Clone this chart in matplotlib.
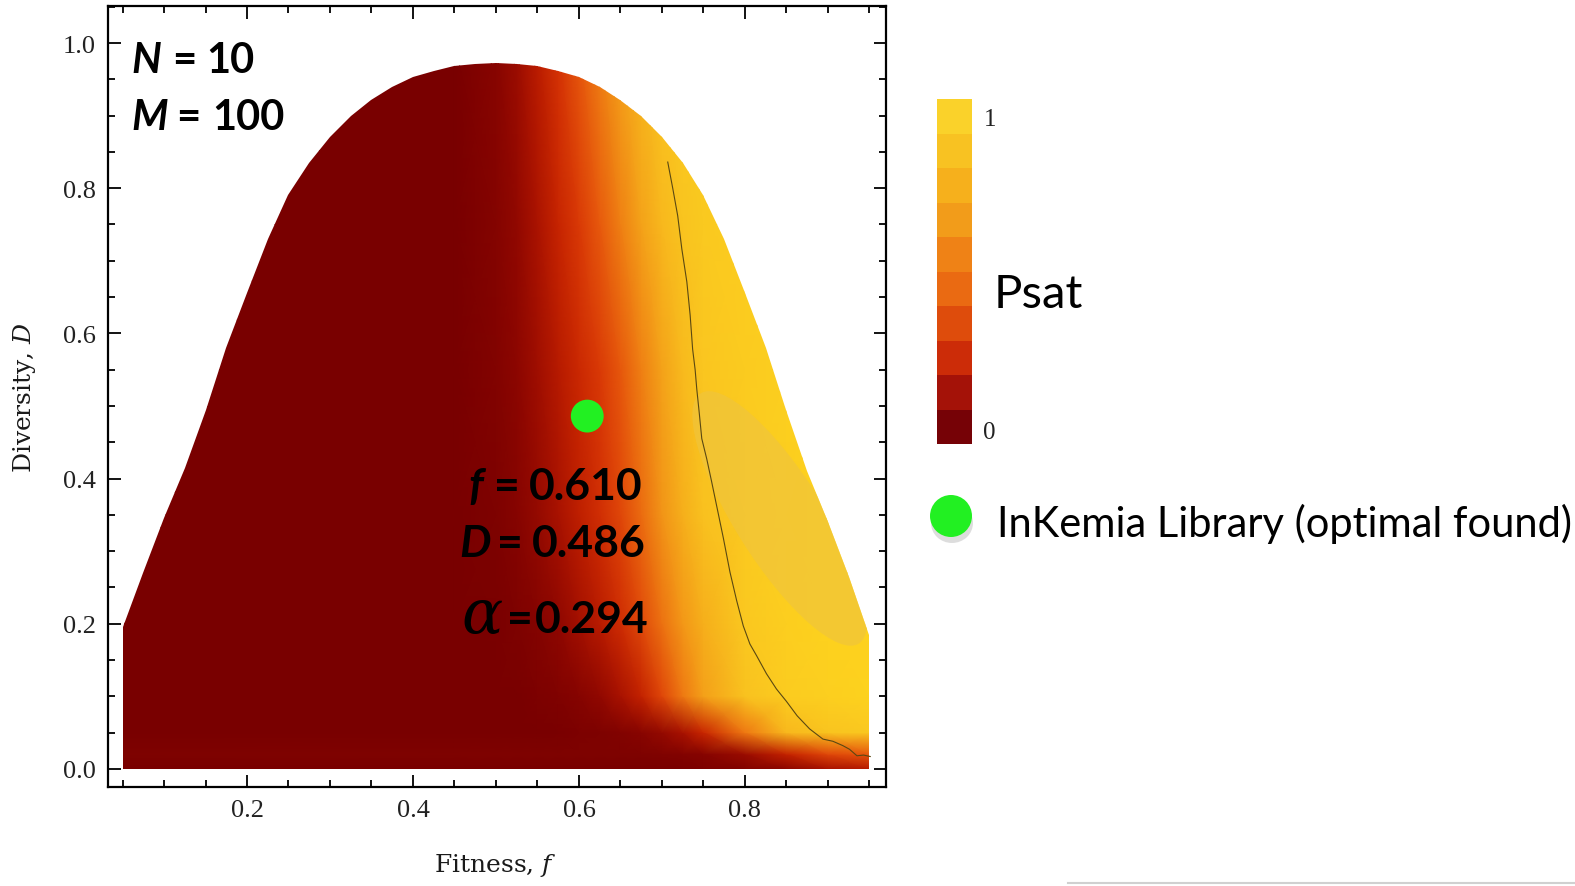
import numpy as np
import matplotlib
matplotlib.use("Agg")
import matplotlib.pyplot as plt
from matplotlib.colors import LinearSegmentedColormap, ListedColormap, BoundaryNorm
from matplotlib.cm import ScalarMappable
from matplotlib.patches import Polygon, Circle, Ellipse
from matplotlib.transforms import ScaledTranslation
from matplotlib.ticker import MultipleLocator, FormatStrFormatter

plt.rcParams['mathtext.fontset'] = 'custom'
plt.rcParams['mathtext.rm'] = 'DejaVu Serif'
plt.rcParams['mathtext.it'] = 'DejaVu Serif:italic'

# ---------------- data ----------------
# upper edge of the feasible (f, D) region
boundary_f = [0.05, 0.075, 0.10, 0.125, 0.15, 0.175, 0.20, 0.225, 0.25, 0.275, 0.30, 0.325,
              0.35, 0.375, 0.40, 0.425, 0.45, 0.475, 0.50, 0.525, 0.55, 0.575, 0.60, 0.625,
              0.65, 0.675, 0.70, 0.725, 0.75, 0.775, 0.80, 0.825, 0.85, 0.875, 0.90, 0.925,
              0.95]
boundary_D = [0.195, 0.27, 0.345, 0.415, 0.495, 0.58, 0.655, 0.73, 0.79, 0.835, 0.87, 0.90,
              0.922, 0.94, 0.953, 0.962, 0.968, 0.971, 0.972, 0.971, 0.968, 0.962, 0.953, 0.94,
              0.922, 0.90, 0.87, 0.835, 0.79, 0.73, 0.655, 0.58, 0.495, 0.41, 0.34, 0.265,
              0.185]

# Psat surface sampled on a coarse (D, f) grid
grid_f = [0.05, 0.45, 0.50, 0.525, 0.55, 0.575, 0.60, 0.625, 0.65, 0.675, 0.70, 0.725,
          0.75, 0.80, 0.85, 0.90, 0.95]
grid_D = [0.0, 0.02, 0.05, 0.10, 0.20, 0.35, 0.55, 0.75, 1.0]
psat_D000 = [0, 0, 0, 0, 0, 0, 0, 0, 0, 0, 0, 0.01, 0.02, 0.05, 0.10, 0.20, 0.25]
psat_D002 = [0.03, 0.03, 0.03, 0.03, 0.03, 0.03, 0.03, 0.03, 0.03, 0.03, 0.04, 0.05, 0.07, 0.15, 0.30, 0.45, 0.50]
psat_D005 = [0, 0, 0, 0, 0, 0.01, 0.02, 0.03, 0.05, 0.08, 0.13, 0.20, 0.32, 0.60, 0.82, 0.88, 0.90]
psat_D010 = [0, 0, 0, 0, 0.02, 0.04, 0.07, 0.12, 0.20, 0.30, 0.45, 0.60, 0.72, 0.87, 0.94, 0.97, 1.0]
psat_D020 = [0, 0, 0.01, 0.03, 0.06, 0.11, 0.18, 0.26, 0.35, 0.46, 0.58, 0.69, 0.78, 0.90, 0.96, 1.0, 1.0]
psat_D035 = [0, 0, 0.03, 0.07, 0.13, 0.20, 0.28, 0.36, 0.45, 0.56, 0.68, 0.78, 0.86, 0.92, 0.96, 1.0, 1.0]
psat_D055 = [0, 0, 0.05, 0.10, 0.17, 0.25, 0.33, 0.41, 0.50, 0.62, 0.73, 0.83, 0.89, 0.93, 0.97, 1.0, 1.0]
psat_D075 = [0, 0, 0.06, 0.12, 0.21, 0.31, 0.41, 0.51, 0.62, 0.73, 0.82, 0.88, 0.91, 0.95, 1.0, 1.0, 1.0]
psat_D100 = [0, 0, 0.08, 0.16, 0.27, 0.39, 0.51, 0.63, 0.74, 0.83, 0.89, 0.92, 0.94, 0.97, 1.0, 1.0, 1.0]
psat_rows = [psat_D000, psat_D002, psat_D005, psat_D010, psat_D020,
             psat_D035, psat_D055, psat_D075, psat_D100]

# thin iso-line drawn on the surface
contour_f = [0.707, 0.713, 0.719, 0.724, 0.730, 0.734, 0.737, 0.740, 0.742, 0.745, 0.748,
             0.754, 0.760, 0.766, 0.774, 0.782, 0.790, 0.798, 0.806, 0.814, 0.826, 0.838,
             0.850, 0.863, 0.878, 0.894, 0.906, 0.918, 0.926, 0.935, 0.943, 0.951]
contour_D = [0.836, 0.800, 0.762, 0.716, 0.671, 0.625, 0.578, 0.550, 0.523, 0.490, 0.455,
             0.427, 0.395, 0.362, 0.318, 0.271, 0.232, 0.197, 0.172, 0.156, 0.131, 0.110,
             0.093, 0.073, 0.055, 0.041, 0.038, 0.032, 0.027, 0.018, 0.019, 0.017]

# optimal library found
optimal_f = [0.610]
optimal_D = [0.486]

# lighter patch on the yellow side (centre in data units)
blob_f, blob_D = 0.842, 0.345

x_major = [0.2, 0.4, 0.6, 0.8]
y_major = [0.0, 0.2, 0.4, 0.6, 0.8, 1.0]

cmap_colors = ['#790000', '#8c0600', '#a81200', '#c42200', '#d83606', '#e6560c',
               '#ee7812', '#f39a18', '#f7b41c', '#fac820', '#fdd21e']
band_colors = ['#760206', '#a41208', '#cc2c08', '#de4c0c', '#ea6a12', '#ef8216',
               '#f29c1a', '#f6b01c', '#f8c222', '#fad22a']

# ---------------- figure ----------------
W, H = 1575, 887
fig = plt.figure(figsize=(W / 100, H / 100), dpi=100)
ax = fig.add_axes([108 / W, 1 - 788 / H, (886 - 108) / W, (788 - 7) / H])
ax.set_xlim(0.0325, 0.97)
ax.set_ylim(-0.025, 1.051)

cmap = LinearSegmentedColormap.from_list("psat", cmap_colors)
F, Dg = np.meshgrid(grid_f, grid_D)
mesh = ax.pcolormesh(F, Dg, np.array(psat_rows), cmap=cmap, vmin=0, vmax=1,
                     shading='gouraud', zorder=1, antialiased=False)

poly_f = [boundary_f[0]] + boundary_f + [boundary_f[-1]]
poly_D = [0.0] + boundary_D + [0.0]
region = Polygon(np.column_stack([poly_f, poly_D]), closed=True,
                 facecolor='none', edgecolor='none', transform=ax.transData)
ax.add_patch(region)
mesh.set_clip_path(region)

blob = Ellipse((0, 0), 2 * 148, 2 * 44, angle=-57.7, facecolor='#efc43e',
               edgecolor='none', alpha=0.65,
               transform=ScaledTranslation(blob_f, blob_D, ax.transData), zorder=2)
ax.add_patch(blob)
blob.set_clip_path(region)

ax.plot(contour_f, contour_D, color='#5a4812', lw=0.8, zorder=3)
ax.scatter(optimal_f, optimal_D, s=560, color='#22f022', edgecolors='none', zorder=4)

ax.set_xticks(x_major)
ax.set_yticks(y_major)
ax.xaxis.set_minor_locator(MultipleLocator(0.05))
ax.yaxis.set_minor_locator(MultipleLocator(0.05))
ax.xaxis.set_major_formatter(FormatStrFormatter('%.1f'))
ax.yaxis.set_major_formatter(FormatStrFormatter('%.1f'))
ax.tick_params(which='both', direction='in', top=True, right=True, width=1.3, color='black')
ax.tick_params(which='major', length=9, labelsize=19, pad=9)
ax.tick_params(which='minor', length=5)
for lab in ax.get_xticklabels() + ax.get_yticklabels():
    lab.set_fontfamily('Liberation Serif')
    lab.set_color('#222222')
for sp in ax.spines.values():
    sp.set_linewidth(1.6)

# colorbar
cax = fig.add_axes([937 / W, 1 - 445 / H, 35 / W, 345 / H])
sm = ScalarMappable(norm=BoundaryNorm(np.linspace(0, 1, 11), 10),
                    cmap=ListedColormap(band_colors))
cb = fig.colorbar(sm, cax=cax)
cb.outline.set_visible(False)
cb.set_ticks([])
cb.minorticks_off()
cax.tick_params(which='both', length=0)

# overlay in pixel coordinates for texts
ov = fig.add_axes([0, 0, 1, 1], zorder=10)
ov.set_xlim(0, W)
ov.set_ylim(H, 0)
ov.axis('off')
ov.patch.set_alpha(0)

serif = dict(family='DejaVu Serif', fontsize=18, color='#1a1a1a')
ov.text(495, 866, "Fitness, $f$", ha='center', va='center', **serif)
ov.text(25, 397, "Diversity, $D$", ha='center', va='center', rotation=90, **serif)

bold = dict(family='Lato', fontweight='bold', fontsize=30, color='black', va='baseline', ha='left')
boldit = dict(bold, fontstyle='italic')
ov.text(131, 73, "N", **boldit)
ov.text(172, 73, "=", **bold)
ov.text(206, 73, "10", **bold)
ov.text(131, 130, "M", **boldit)
ov.text(176, 130, "=", **bold)
ov.text(212, 130, "100", **bold)

big = dict(bold, fontsize=32)
bigit = dict(big, fontstyle='italic')
ov.text(468, 500, "f", **bigit)
ov.text(494, 500, "=", **big)
ov.text(529, 500, "0.610", **big)
ov.text(459, 557, "D", **bigit)
ov.text(497, 557, "=", **big)
ov.text(532, 557, "0.486", **big)
ov.text(461, 633, "α", family='DejaVu Serif', fontstyle='italic', fontsize=44,
        color='black', va='baseline', ha='left')
ov.text(507, 633, "=", **big)
ov.text(535, 633, "0.294", **big)

ov.text(990, 120, "1", family='Liberation Serif', fontsize=18, ha='center', va='center', color='#222222')
ov.text(989, 433, "0", family='Liberation Serif', fontsize=18, ha='center', va='center', color='#222222')
ov.text(994, 308, "Psat", family='Lato', fontsize=34, ha='left', va='baseline', color='black')

ov.add_patch(Ellipse((952, 524), 42, 40, facecolor='#7a7a7a', edgecolor='none', alpha=0.25))
ov.add_patch(Circle((951, 517), 21, facecolor='#22f022', edgecolor='none'))
ov.text(997, 537, "InKemia Library (optimal found)", family='Lato', fontsize=30,
        ha='left', va='baseline', color='black')

ov.plot([1068, W], [884, 884], color='#d0d0d0', lw=1.5)

fig.savefig("out.png", dpi=100, facecolor='white')
